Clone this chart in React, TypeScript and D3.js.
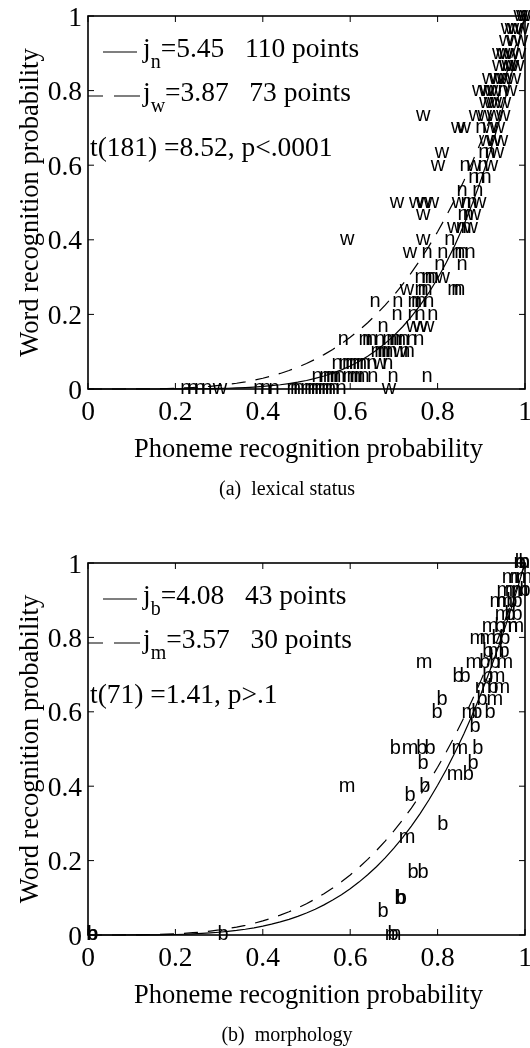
import React from 'react';
import * as d3 from 'd3';

// ---------- shared axis data ----------
const TICK_VALUES = [0, 0.2, 0.4, 0.6, 0.8, 1];
const TICK_LABELS = ['0', '0.2', '0.4', '0.6', '0.8', '1'];
const X_TITLE = 'Phoneme recognition probability';
const Y_TITLE = 'Word recognition probability';

// ---------- panel (a) lexical status ----------
const A_N_POINTS: [number, number][] = [
  [0.950, 0.8],
  [0.899, 0.7],
  [0.906, 0.633], [0.920, 0.633],
  [0.863, 0.6], [0.904, 0.6],
  [0.883, 0.567], [0.897, 0.567], [0.911, 0.567],
  [0.856, 0.533], [0.892, 0.533],
  [0.865, 0.5], [0.879, 0.5],
  [0.858, 0.467], [0.870, 0.467],
  [0.854, 0.433], [0.865, 0.433],
  [0.828, 0.4],
  [0.776, 0.367], [0.812, 0.367], [0.844, 0.367], [0.851, 0.367], [0.858, 0.367], [0.874, 0.367],
  [0.805, 0.333], [0.856, 0.333],
  [0.760, 0.3], [0.776, 0.3], [0.783, 0.3], [0.789, 0.3],
  [0.760, 0.267], [0.767, 0.267], [0.776, 0.267], [0.835, 0.267], [0.844, 0.267], [0.851, 0.267],
  [0.657, 0.233], [0.709, 0.233], [0.744, 0.233], [0.752, 0.233], [0.762, 0.233], [0.780, 0.233],
  [0.707, 0.2], [0.744, 0.2], [0.760, 0.2], [0.789, 0.2],
  [0.675, 0.167],
  [0.584, 0.133], [0.632, 0.133], [0.640, 0.133], [0.650, 0.133], [0.668, 0.133], [0.686, 0.133],
  [0.695, 0.133], [0.705, 0.133], [0.715, 0.133], [0.723, 0.133], [0.741, 0.133], [0.757, 0.133],
  [0.659, 0.1], [0.668, 0.1], [0.677, 0.1], [0.686, 0.1], [0.696, 0.1], [0.725, 0.1], [0.735, 0.1],
  [0.570, 0.067], [0.586, 0.067], [0.594, 0.067], [0.602, 0.067], [0.610, 0.067], [0.618, 0.067],
  [0.626, 0.067], [0.634, 0.067], [0.650, 0.067], [0.686, 0.067],
  [0.524, 0.033], [0.542, 0.033], [0.550, 0.033], [0.558, 0.033], [0.567, 0.033], [0.577, 0.033],
  [0.595, 0.033], [0.604, 0.033], [0.613, 0.033], [0.622, 0.033], [0.632, 0.033], [0.652, 0.033],
  [0.698, 0.033], [0.776, 0.033],
  [0.224, 0], [0.240, 0], [0.256, 0], [0.272, 0], [0.391, 0], [0.407, 0], [0.426, 0], [0.467, 0],
  [0.475, 0], [0.483, 0], [0.499, 0], [0.507, 0], [0.515, 0], [0.523, 0], [0.531, 0], [0.539, 0],
  [0.547, 0], [0.555, 0], [0.563, 0], [0.579, 0],
];
const A_W_POINTS: [number, number][] = [
  [0.990, 1], [0.996, 1], [1.000, 1],
  [0.961, 0.967], [0.970, 0.967], [0.977, 0.967], [0.993, 0.967],
  [0.957, 0.933], [0.975, 0.933], [0.991, 0.933],
  [0.941, 0.9], [0.950, 0.9], [0.957, 0.9], [0.970, 0.9], [0.986, 0.9],
  [0.941, 0.867], [0.957, 0.867], [0.963, 0.867], [0.970, 0.867], [0.982, 0.867],
  [0.918, 0.833], [0.936, 0.833], [0.945, 0.833], [0.954, 0.833], [0.975, 0.833],
  [0.895, 0.8], [0.913, 0.8], [0.922, 0.8], [0.931, 0.8], [0.966, 0.8],
  [0.911, 0.767], [0.922, 0.767], [0.931, 0.767], [0.952, 0.767],
  [0.767, 0.733], [0.888, 0.733], [0.908, 0.733], [0.929, 0.733], [0.950, 0.733],
  [0.847, 0.7], [0.860, 0.7], [0.920, 0.7], [0.938, 0.7],
  [0.911, 0.667], [0.929, 0.667], [0.945, 0.667],
  [0.810, 0.633], [0.936, 0.633],
  [0.801, 0.6], [0.883, 0.6], [0.922, 0.6],
  [0.707, 0.5], [0.751, 0.5], [0.769, 0.5], [0.787, 0.5], [0.849, 0.5], [0.895, 0.5],
  [0.767, 0.467], [0.883, 0.467],
  [0.838, 0.433], [0.876, 0.433],
  [0.593, 0.4], [0.767, 0.4],
  [0.737, 0.367],
  [0.812, 0.3],
  [0.730, 0.267],
  [0.744, 0.167], [0.760, 0.167], [0.776, 0.167],
  [0.714, 0.1],
  [0.668, 0.067],
  [0.302, 0], [0.689, 0],
];
const A_J_N = 5.45;
const A_J_W = 3.87;

// ---------- panel (b) morphology ----------
const B_B_POINTS: [number, number][] = [
  [0.989, 1], [0.998, 1],
  [1.000, 0.927],
  [0.970, 0.895], [0.982, 0.895],
  [0.966, 0.86], [0.982, 0.86],
  [0.943, 0.828],
  [0.936, 0.798], [0.954, 0.798],
  [0.915, 0.761], [0.952, 0.761],
  [0.908, 0.731], [0.931, 0.731],
  [0.847, 0.694], [0.863, 0.694], [0.915, 0.694],
  [0.927, 0.664],
  [0.810, 0.632], [0.902, 0.632],
  [0.799, 0.597], [0.890, 0.597], [0.920, 0.597],
  [0.886, 0.559],
  [0.703, 0.5], [0.764, 0.5], [0.783, 0.5], [0.892, 0.5],
  [0.767, 0.462], [0.881, 0.462],
  [0.870, 0.43],
  [0.771, 0.4],
  [0.737, 0.376],
  [0.812, 0.296],
  [0.744, 0.167], [0.767, 0.167],
  [0.714, 0.099], [0.717, 0.099],
  [0.675, 0.0625],
  [0.698, 0], [0.309, 0], [0.009, 0], [0.011, 0],
];
const B_M_POINTS: [number, number][] = [
  [0.993, 1],
  [0.966, 0.96], [0.984, 0.96], [0.998, 0.96],
  [0.954, 0.927], [0.973, 0.927], [0.989, 0.927],
  [0.938, 0.895], [0.954, 0.895],
  [0.950, 0.86],
  [0.920, 0.828], [0.966, 0.828], [0.979, 0.828],
  [0.892, 0.798], [0.915, 0.798],
  [0.934, 0.761],
  [0.769, 0.731], [0.883, 0.731], [0.954, 0.731],
  [0.936, 0.694],
  [0.904, 0.664], [0.947, 0.664],
  [0.931, 0.632],
  [0.874, 0.597],
  [0.737, 0.5], [0.851, 0.5],
  [0.840, 0.43],
  [0.593, 0.4],
  [0.730, 0.263],
  [0.698, 0],
];
const B_J_B = 4.08;
const B_J_M = 3.57;

// ---------- layout ----------
const W = 530;
const H = 1048;
const PLOT_LEFT = 88;
const PLOT_RIGHT = 525;
const SERIF = '"Liberation Serif", "Times New Roman", serif';
const SANS = '"Liberation Sans", Arial, sans-serif';

type PanelProps = {
  top: number;
  bottom: number;
  series: { letter: string; points: [number, number][] }[];
  curves: { j: number; dash: boolean }[];
  legend: { sub: string; value: string; count: string; dash: boolean }[];
  stat: string;
  caption: string;
  letterSize: number;
};

function Panel({ top, bottom, series, curves, legend, stat, caption, letterSize }: PanelProps) {
  const x = d3.scaleLinear().domain([0, 1]).range([PLOT_LEFT, PLOT_RIGHT]);
  const y = d3.scaleLinear().domain([0, 1]).range([bottom, top]);
  const samples = d3.range(0, 1.0001, 0.02);
  const tickLen = 6;
  const lw = 1.6;
  return (
    <g>
      {/* fitted curves y = x^j */}
      {curves.map((c, i) => (
        <path
          key={'c' + i}
          d={d3.line<number>().x((d) => x(d)).y((d) => y(Math.pow(d, c.j)))(samples) as string}
          fill="none"
          stroke="#000"
          strokeWidth={1.2}
          strokeDasharray={c.dash ? '14,10' : undefined}
        />
      ))}
      {/* scatter letters */}
      {series.map((s) =>
        s.points.map((p, i) => (
          <text
            key={s.letter + i}
            x={x(p[0])}
            y={y(p[1]) + letterSize * 0.27}
            textAnchor="middle"
            fontFamily={SANS}
            fontSize={letterSize}
            fill="#000"
          >
            {s.letter}
          </text>
        ))
      )}
      {/* box */}
      <rect
        x={PLOT_LEFT}
        y={top}
        width={PLOT_RIGHT - PLOT_LEFT}
        height={bottom - top}
        fill="none"
        stroke="#000"
        strokeWidth={lw}
      />
      {/* ticks */}
      {TICK_VALUES.map((t, i) => (
        <g key={'t' + i}>
          <line x1={x(t)} x2={x(t)} y1={bottom} y2={bottom - tickLen} stroke="#000" strokeWidth={1} />
          <line x1={x(t)} x2={x(t)} y1={top} y2={top + tickLen} stroke="#000" strokeWidth={1} />
          <line x1={PLOT_LEFT} x2={PLOT_LEFT + tickLen} y1={y(t)} y2={y(t)} stroke="#000" strokeWidth={1} />
          <line x1={PLOT_RIGHT} x2={PLOT_RIGHT - tickLen} y1={y(t)} y2={y(t)} stroke="#000" strokeWidth={1} />
          <text x={x(t)} y={bottom + 31} textAnchor="middle" fontFamily={SERIF} fontSize={27.5}>
            {TICK_LABELS[i]}
          </text>
          <text x={PLOT_LEFT - 6} y={y(t) + 9.5} textAnchor="end" fontFamily={SERIF} fontSize={27.5}>
            {TICK_LABELS[i]}
          </text>
        </g>
      ))}
      {/* legend */}
      {legend.map((l, i) => {
        const ly = top + 41 + i * 44;
        return (
          <g key={'l' + i}>
            {l.dash ? (
              <line x1={88} x2={140} y1={ly - 5} y2={ly - 5} stroke="#000" strokeWidth={1.2} strokeDasharray="15,11,26" />
            ) : (
              <line x1={103} x2={137} y1={ly - 5} y2={ly - 5} stroke="#000" strokeWidth={1.2} />
            )}
            <text x={143} y={ly} fontFamily={SERIF} fontSize={27.5}>
              <tspan>j</tspan>
              <tspan fontSize={20} dy={11}>{l.sub}</tspan>
              <tspan dy={-11}>{'=' + l.value + '\u00a0\u00a0\u00a0' + l.count + ' points'}</tspan>
            </text>
          </g>
        );
      })}
      <text x={90} y={top + 140} fontFamily={SERIF} fontSize={27.5}>
        {stat}
      </text>
      {/* axis titles */}
      <text x={(PLOT_LEFT + PLOT_RIGHT) / 2 + 2} y={bottom + 68} textAnchor="middle" fontFamily={SERIF} fontSize={26.5}>
        {X_TITLE}
      </text>
      <text
        transform={`translate(38, ${(top + bottom) / 2}) rotate(-90)`}
        textAnchor="middle"
        fontFamily={SERIF}
        fontSize={26.5}
      >
        {Y_TITLE}
      </text>
      <text x={287} y={bottom + 106} textAnchor="middle" fontFamily={SERIF} fontSize={20}>
        {caption}
      </text>
    </g>
  );
}

export default function App() {
  return (
    <svg
      width={W}
      height={H}
      viewBox={`0 0 ${W} ${H}`}
      style={{ position: 'absolute', left: 0, top: 0, display: 'block', background: '#fff', filter: 'grayscale(1)' }}
    >
      <rect x={0} y={0} width={W} height={H} fill="#fff" />
      <Panel
        top={16}
        bottom={389}
        series={[
          { letter: 'n', points: A_N_POINTS },
          { letter: 'w', points: A_W_POINTS },
        ]}
        curves={[
          { j: A_J_N, dash: false },
          { j: A_J_W, dash: true },
        ]}
        legend={[
          { sub: 'n', value: A_J_N.toFixed(2), count: String(A_N_POINTS.length), dash: false },
          { sub: 'w', value: A_J_W.toFixed(2), count: String(A_W_POINTS.length), dash: true },
        ]}
        stat="t(181) =8.52, p<.0001"
        caption={'(a)\u00a0\u00a0lexical status'}
        letterSize={20}
      />
      <Panel
        top={563}
        bottom={935}
        series={[
          { letter: 'b', points: B_B_POINTS },
          { letter: 'm', points: B_M_POINTS },
        ]}
        curves={[
          { j: B_J_B, dash: false },
          { j: B_J_M, dash: true },
        ]}
        legend={[
          { sub: 'b', value: B_J_B.toFixed(2), count: String(B_B_POINTS.length), dash: false },
          { sub: 'm', value: B_J_M.toFixed(2), count: String(B_M_POINTS.length), dash: true },
        ]}
        stat="t(71) =1.41, p>.1"
        caption={'(b)\u00a0\u00a0morphology'}
        letterSize={20}
      />
    </svg>
  );
}
